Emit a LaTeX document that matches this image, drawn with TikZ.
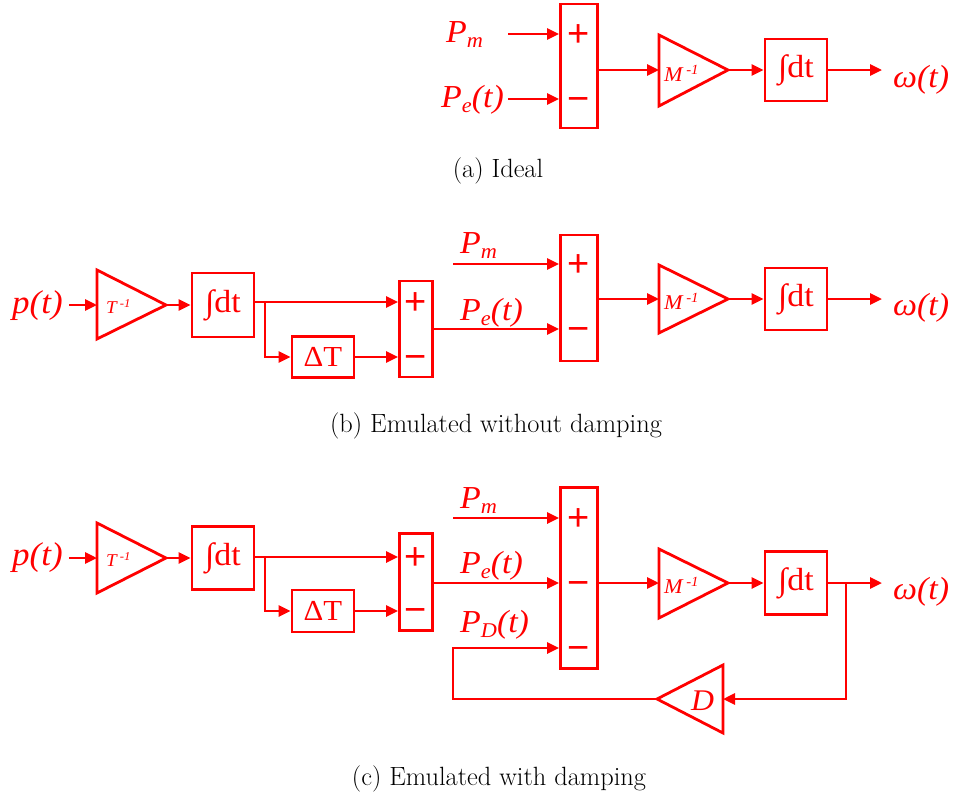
\documentclass[tikz,border=0pt]{standalone}
\usepackage{fontspec}
\newfontfamily\tnr[FakeStretch=1.06]{Liberation Serif}
\newfontfamily\ars{Liberation Sans}
\usetikzlibrary{arrows.meta}
\definecolor{dr}{RGB}{255,0,0}
\newcommand\fs[1]{\fontsize{#1}{#1}\selectfont}
\newcommand\lsub[1]{\raisebox{-5pt}{\fs{21}#1}}
\newcommand\gsup[1]{\raisebox{7pt}{\fs{14}#1}}
\newcommand\tsup[1]{\raisebox{6pt}{\fs{12}#1}}
\begin{document}
\begin{tikzpicture}[x=1pt,y=-1pt,
 ln/.style={draw=dr,line width=2.8pt,line join=miter},
 arr/.style={ln,-{Triangle[length=12pt,width=11pt]}},
 blk/.style={draw=dr,line width=2.8pt,rectangle,inner sep=0pt,text=dr},
 lbl/.style={text=dr,inner sep=0pt,anchor=base west,font=\tnr\itshape\fs{32}},
 sgn/.style={text=dr,inner sep=0pt,anchor=base,font=\ars\fs{38}},
 gain/.style={text=dr,inner sep=0pt,anchor=base west,font=\tnr\itshape\fs{21}},
 intx/.style={blk,font=\tnr\fs{32}},
 capt/.style={inner sep=0pt,anchor=base,font=\fs{26.4}},
]
\useasboundingbox (0,0) rectangle (956,801);

% ---------------- (a) ----------------
\node[blk,minimum width=37pt,minimum height=124pt] (sA) at (579,66) {};
\node[sgn] (sAp) at (579,46) {+};
\node[sgn] (sAm) at (579,111) {−};
\coordinate (pmA) at (508,34);
\coordinate (peA) at (508,99);
\draw[arr] (pmA) -- (pmA -| sA.west);
\draw[arr] (peA) -- (peA -| sA.west);
\node[lbl] (lPmA) at (446,42) {P\lsub{m}};
\node[lbl] (lPeA) at (441,107) {P\lsub{e}(t)};
\draw[ln] (659,35) -- (728,70) -- (659,106) -- cycle;
\coordinate (mAi) at (659,70);
\coordinate (mAo) at (728,70);
\node[gain] (gA) at (664,81) {M\,\gsup{-1}};
\draw[arr] (mAi -| sA.east) -- (mAi);
\node[intx,minimum width=62pt,minimum height=62pt] (iA) at (796,70) {∫dt};
\draw[arr] (mAo) -- (iA.west);
\coordinate (wA) at (882,70);
\draw[arr] (iA.east) -- (wA);
\node[lbl] (lwA) at (893,87) {ω(t)};
\node[capt] (cA) at (498,177) {(a) Ideal};

% ---------------- (b) ----------------
\node[lbl,font=\tnr\itshape\fs{33}] (lpB) at (12,313) {p(t)};
\coordinate (pB) at (69,305);
\draw[ln] (97,270) -- (166,305) -- (97,339) -- cycle;
\coordinate (tBi) at (97,305);
\coordinate (tBo) at (166,305);
\node[gain,font=\tnr\itshape\fs{18}] (gTB) at (106,313) {T\,\tsup{-1}};
\draw[arr] (pB) -- (tBi);
\node[intx,minimum width=62pt,minimum height=64pt] (iB1) at (223,305) {∫dt};
\draw[arr] (tBo) -- (iB1.west);
\node[blk,minimum width=33pt,minimum height=96pt] (sB2) at (416,329) {};
\node[sgn] (sB2p) at (416,314) {+};
\node[sgn] (sB2m) at (416,369) {−};
\node[intx,font=\tnr\fs{29},minimum width=62pt,minimum height=41pt] (dB) at (323,357) {ΔT};
\coordinate (jB) at (265,302);
\coordinate (kB) at (265,357);
\draw[ln] (iB1.east |- jB) -- (jB);
\draw[arr] (jB) -- (jB -| sB2.west);
\draw[arr] (jB) -- (kB) -- (dB.west);
\draw[arr] (dB.east) -- (dB.east -| sB2.west);
\node[blk,minimum width=37pt,minimum height=126pt] (sB) at (579,298) {};
\node[sgn] (sBp) at (579,276) {+};
\node[sgn] (sBm) at (579,341) {−};
\draw[arr] (sB2.east) -- (sB2.east -| sB.west);
\coordinate (pmB) at (453,264);
\draw[arr] (pmB) -- (pmB -| sB.west);
\node[lbl] (lPmB) at (460,253) {P\lsub{m}};
\node[lbl] (lPeB) at (460,320) {P\lsub{e}(t)};
\draw[ln] (659,265) -- (728,299) -- (659,333) -- cycle;
\coordinate (mBi) at (659,299);
\coordinate (mBo) at (728,299);
\node[gain] (gB) at (664,309) {M\,\gsup{-1}};
\draw[arr] (mBi -| sB.east) -- (mBi);
\node[intx,minimum width=62pt,minimum height=62pt] (iB) at (796,299) {∫dt};
\draw[arr] (mBo) -- (iB.west);
\coordinate (wB) at (882,299);
\draw[arr] (iB.east) -- (wB);
\node[lbl] (lwB) at (893,315) {ω(t)};
\node[capt] (cB) at (496,432) {(b) Emulated without damping};

% ---------------- (c) ----------------
\node[lbl,font=\tnr\itshape\fs{33}] (lpC) at (12,565) {p(t)};
\coordinate (pC) at (69,558);
\draw[ln] (97,523) -- (166,558) -- (97,593) -- cycle;
\coordinate (tCi) at (97,558);
\coordinate (tCo) at (166,558);
\node[gain,font=\tnr\itshape\fs{18}] (gTC) at (106,566) {T\,\tsup{-1}};
\draw[arr] (pC) -- (tCi);
\node[intx,minimum width=62pt,minimum height=63pt] (iC1) at (223,558) {∫dt};
\draw[arr] (tCo) -- (iC1.west);
\node[blk,minimum width=33pt,minimum height=97pt] (sC2) at (416,582) {};
\node[sgn] (sC2p) at (416,569) {+};
\node[sgn] (sC2m) at (416,622) {−};
\node[intx,font=\tnr\fs{29},minimum width=62pt,minimum height=42pt] (dC) at (323,611) {ΔT};
\coordinate (jC) at (265,557);
\coordinate (kC) at (265,611);
\draw[ln] (iC1.east |- jC) -- (jC);
\draw[arr] (jC) -- (jC -| sC2.west);
\draw[arr] (jC) -- (kC) -- (dC.west);
\draw[arr] (dC.east) -- (dC.east -| sC2.west);
\node[blk,minimum width=37pt,minimum height=181pt] (sC) at (579,578) {};
\node[sgn] (sCp) at (579,530) {+};
\node[sgn] (sCm) at (579,595) {−};
\node[sgn] (sCd) at (579,660) {−};
\coordinate (peC) at (433,583);
\draw[arr] (sC2.east |- peC) -- (peC -| sC.west);
\coordinate (pmC) at (453,518);
\draw[arr] (pmC) -- (pmC -| sC.west);
\node[lbl] (lPmC) at (460,508) {P\lsub{m}};
\node[lbl] (lPeC) at (460,573) {P\lsub{e}(t)};
\node[lbl] (lPdC) at (460,632) {P\lsub{D}(t)};
\draw[ln] (659,549) -- (728,583) -- (659,618) -- cycle;
\coordinate (mCi) at (659,583);
\coordinate (mCo) at (728,583);
\node[gain] (gC) at (664,593) {M\,\gsup{-1}};
\draw[arr] (mCi -| sC.east) -- (mCi);
\node[intx,minimum width=62pt,minimum height=63pt] (iC) at (796,583) {∫dt};
\draw[arr] (mCo) -- (iC.west);
\coordinate (wC) at (882,583);
\draw[arr] (iC.east) -- (wC);
\node[lbl] (lwC) at (893,599) {ω(t)};
\draw[ln] (723,665) -- (657,699) -- (723,733) -- cycle;
\coordinate (dTi) at (723,699);
\coordinate (dTo) at (657,699);
\node[lbl,font=\tnr\itshape\fs{30}] (lD) at (691,710) {D};
\coordinate (oC) at (846,583);
\draw[arr] (oC) |- (dTi);
\coordinate (fC) at (453,648);
\draw[arr] (dTo) -| (fC) -- (fC -| sC.west);
\node[capt] (cC) at (499,785) {(c) Emulated with damping};
\end{tikzpicture}
\end{document}
